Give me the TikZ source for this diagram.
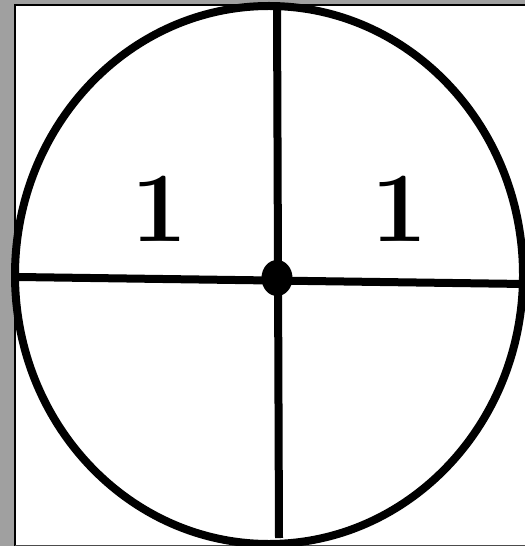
\documentclass[tikz,border=0pt]{standalone}
\usetikzlibrary{shapes.geometric}
\definecolor{framegray}{RGB}{160,160,160}
\tikzset{
  spoke/.style={
    line width=8bp,
    draw=black
  },
  rim/.style={
    line width=8bp,
    draw=black
  },
  hub/.style={
    shape = ellipse,
    fill = black,
    inner sep = 0pt,
    minimum width = 31bp,
    minimum height = 36bp
  },
  digit/.style={
    anchor = base,
    inner sep = 0pt,
    font = \fontsize{100}{100}\selectfont\bfseries
  }
}
\begin{document}
\begin{tikzpicture}[x=1bp,y=-1bp]
    \useasboundingbox (0,0) rectangle (525,546);
    % backdrop and frame
    \fill[framegray] (0,0) rectangle (525,546);
    \fill[white] (14,5) rectangle (525,546);
    \draw[line width=2bp] (15,546) -- (15,5) -- (525,5);
    \draw[line width=1bp, black!70] (15,545) -- (525,545);
    % spinner
    \draw[rim] (269,275) ellipse [x radius=254, y radius=269];
    \coordinate (top) at (277,6);
    \coordinate (bot) at (279,538);
    \coordinate (lft) at (18,277);
    \coordinate (rgt) at (525,284);
    \draw[spoke] (top) -- (bot);
    \draw[spoke] (lft) -- (rgt);
    \node[hub] (c) at (277,278) {};
    \foreach \x/\n in {160/a,400/b}{
        \node[digit] (lab\n) at (\x,241) {1};
    }
\end{tikzpicture}
\end{document}
